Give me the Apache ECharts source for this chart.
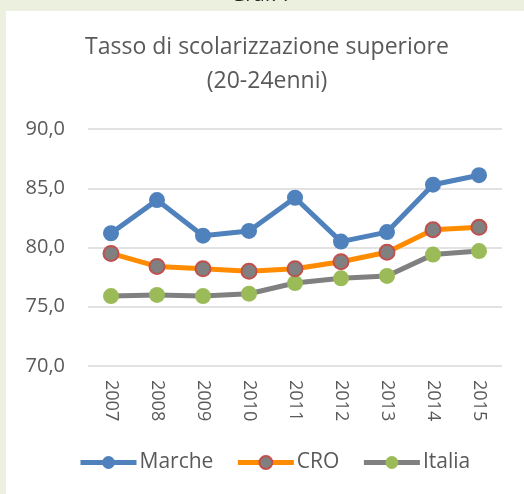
<!DOCTYPE html>
<html>
<head>
<meta charset="utf-8">
<script src="https://cdn.jsdelivr.net/npm/echarts@6/dist/echarts.min.js"></script>
<style>
  html, body { margin: 0; padding: 0; background: #ebf1de; }
  #chart { width: 524px; height: 494px; }
</style>
</head>
<body>
<div id="chart"></div>
<script>
// dati
const years = ['2007', '2008', '2009', '2010', '2011', '2012', '2013', '2014', '2015']
const marche = [81.2, 84.0, 81.0, 81.4, 84.2, 80.5, 81.3, 85.3, 86.1]
const cro = [79.5, 78.4, 78.2, 78.0, 78.2, 78.8, 79.6, 81.5, 81.7]
const italia = [75.9, 76.0, 75.9, 76.1, 77.0, 77.4, 77.6, 79.4, 79.7]

const font = '"Open Sans", sans-serif'
const grey = '#595959'

const myChart = echarts.init(document.getElementById('chart'))

myChart.setOption({
  backgroundColor: 'transparent',
  animation: false,
  graphic: [
    {
      type: 'rect',
      shape: { x: 6, y: 11, width: 518, height: 483 },
      style: { fill: '#ffffff' },
      z: -10
    },
    {
      type: 'text',
      left: 'center',
      top: -15,
      style: { text: 'Graf. 7', font: '20px ' + font, fill: '#262626' },
      z: -20
    }
  ],
  title: {
    text: 'Tasso di scolarizzazione superiore\n(20-24enni)',
    left: 262,
    textAlign: 'center',
    top: 25,
    textStyle: {
      fontFamily: font,
      fontSize: 23,
      fontWeight: 'normal',
      color: grey,
      lineHeight: 34
    }
  },
  legend: {
    bottom: 16,
    left: 73,
    itemWidth: 56,
    itemHeight: 16,
    itemGap: 22,
    lineStyle: { width: 5 },
    textStyle: { fontFamily: font, fontSize: 21, color: grey, padding: [0, 0, 0, -2] },
    data: ['Marche', 'CRO', 'Italia']
  },
  grid: { left: 88, right: 22, top: 129, bottom: 128 },
  xAxis: {
    type: 'category',
    data: years,
    boundaryGap: true,
    axisLine: { show: false },
    axisTick: { show: false },
    axisLabel: {
      rotate: -90,
      margin: 14,
      fontFamily: font,
      fontSize: 18,
      color: grey
    }
  },
  yAxis: {
    type: 'value',
    min: 70,
    max: 90,
    interval: 5,
    axisLabel: {
      margin: 23,
      fontFamily: font,
      fontSize: 20,
      color: grey,
      formatter: v => v.toFixed(1).replace('.', ',')
    },
    splitLine: { lineStyle: { color: '#d9d9d9', width: 1.5 } }
  },
  series: [
    {
      name: 'Marche',
      type: 'line',
      data: marche,
      symbol: 'circle',
      symbolSize: 16,
      lineStyle: { color: '#4f81bd', width: 5 },
      itemStyle: { color: '#4f81bd' },
      z: 3
    },
    {
      name: 'CRO',
      type: 'line',
      data: cro,
      symbol: 'circle',
      symbolSize: 15,
      lineStyle: { color: '#ff8c00', width: 5 },
      itemStyle: { color: '#808080', borderColor: '#c0504d', borderWidth: 2 },
      z: 2
    },
    {
      name: 'Italia',
      type: 'line',
      data: italia,
      symbol: 'circle',
      symbolSize: 16,
      lineStyle: { color: '#808080', width: 5 },
      itemStyle: { color: '#9bbb59' },
      z: 1
    }
  ]
})
</script>
</body>
</html>
